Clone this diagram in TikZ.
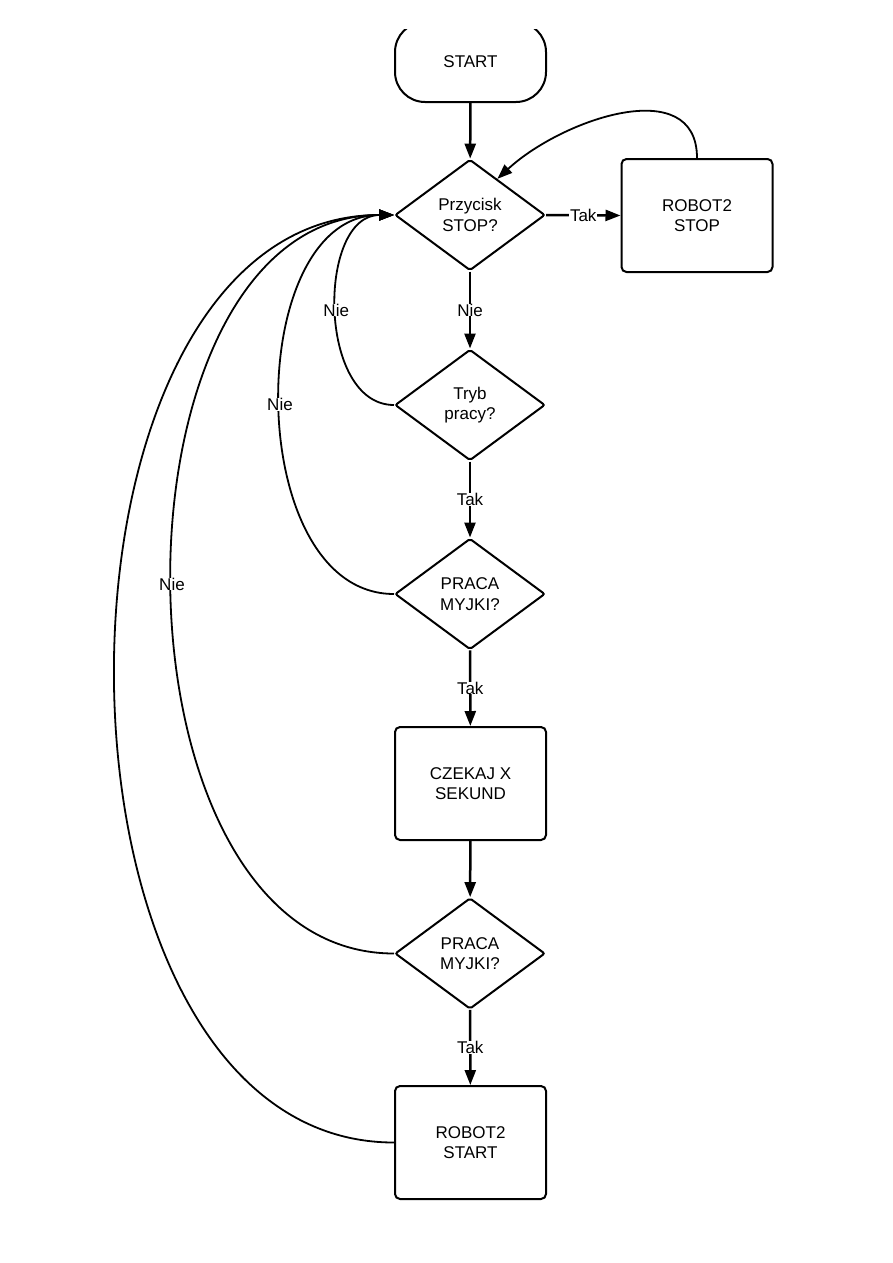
\documentclass[tikz,border=0pt]{standalone}
\usepackage{fontspec}
\setmainfont{Liberation Sans}
\usetikzlibrary{shapes.geometric,arrows.meta,calc}
\begin{document}
\begin{tikzpicture}[x=1pt,y=-1pt,
  every node/.style={font=\fontsize{17}{20.5}\selectfont, align=center},
  boxnode/.style={draw, line width=2pt, rounded corners=5pt, minimum width=151pt, minimum height=113pt, inner sep=0pt},
  termnode/.style={draw, line width=2pt, rounded corners=30pt, minimum width=151pt, minimum height=80pt, inner sep=0pt},
  decnode/.style={draw, diamond, line width=2pt, rounded corners=2pt, minimum width=150pt, minimum height=111pt, inner sep=0pt},
  flow/.style={line width=2.5pt, -{Triangle[length=15pt,width=11pt]}},
  back/.style={line width=1.8pt, -{Triangle[length=15pt,width=11pt]}},
  lbl/.style={fill=white, inner sep=0pt, font=\fontsize{17}{20}\selectfont}]
\useasboundingbox (0,0) rectangle (893,1263);
\fill[white] (0,0) rectangle (893,1263);
\begin{scope}
  \clip (0,30) rectangle (893,1263);
  \node[termnode] (start) at (470.5,62) {START};
\end{scope}
\node[decnode] (d1) at (470,215) {Przycisk\\STOP?};
\node[boxnode] (stop) at (697,215.5) {ROBOT2\\STOP};
\node[decnode] (d2) at (470,405) {Tryb\\pracy?};
\node[decnode] (d3) at (470,594) {PRACA\\MYJKI?};
\node[boxnode] (wait) at (470.5,783.5) {CZEKAJ X\\SEKUND};
\node[decnode] (d4) at (470,953.5) {PRACA\\MYJKI?};
\node[boxnode] (rstart) at (470.5,1142.5) {ROBOT2\\START};
\coordinate (d1ne) at ($(d1.north)!0.36!(d1.east)$);

\draw[flow] (start) -- (d1);
\draw[flow] (d1.east) -- node[lbl, inner xsep=1pt] {Tak} (stop.west);
\draw[back] (stop.north) .. controls +(0,-85) and +(65,-60) .. (d1ne);
\draw[flow] (d1) -- node[lbl] {Nie} (d2);
\draw[flow] (d2) -- node[lbl] {Tak} (d3);
\draw[flow] (d3) -- node[lbl] {Tak} (wait);
\draw[flow] (wait) -- (d4);
\draw[flow] (d4) -- node[lbl] {Tak} (rstart);

\draw[back] (d2.west) .. controls +(-77,0) and +(-77,0) .. node[pos=0.5, lbl] {Nie} (d1.west);
\draw[back] (d3.west) .. controls +(-152,0) and +(-152,0) .. node[pos=0.5, lbl] {Nie} (d1.west);
\draw[back] (d4.west) .. controls +(-296,0) and +(-296,0) .. node[pos=0.5, lbl] {Nie} (d1.west);
\draw[back] (rstart.west) .. controls +(-371,0) and +(-371,0) .. (d1.west);
\end{tikzpicture}
\end{document}
